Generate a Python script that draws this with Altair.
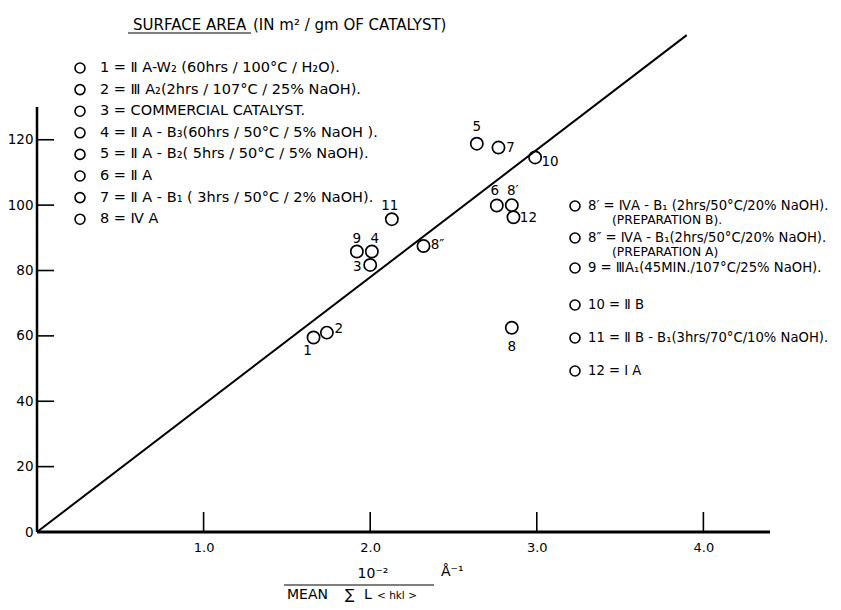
import altair as alt
import pandas as pd

# ---------------- data ----------------
pt_labels = ["1", "2", "3", "4", "5", "6", "7", "8", "8′", "8″", "9", "10", "11", "12"]
pt_x = [1.66, 1.74, 2.00, 2.01, 2.64, 2.76, 2.77, 2.85, 2.85, 2.32, 1.92, 2.99, 2.13, 2.86]
pt_y = [59.5, 61.0, 81.7, 85.8, 118.8, 99.9, 117.6, 62.5, 100.0, 87.5, 85.8, 114.6, 95.7, 96.3]

fit_x = [0.0, 3.9]
fit_y = [0.0, 152.0]

x_ticks = [1.0, 2.0, 3.0, 4.0]
y_ticks = [0, 20, 40, 60, 80, 100, 120]
x_axis_extent = [0.0, 4.4]
y_axis_extent = [0.0, 130.0]

title_main = "SURFACE AREA"
title_rest = "(IN m² / gm OF CATALYST)"

legend_left = [
    "1 = Ⅱ A-W₂ (60hrs / 100°C / H₂O).",
    "2 = Ⅲ A₂(2hrs / 107°C / 25% NaOH).",
    "3 = COMMERCIAL  CATALYST.",
    "4 = Ⅱ A - B₃(60hrs / 50°C / 5% NaOH ).",
    "5 = Ⅱ A - B₂( 5hrs / 50°C / 5% NaOH).",
    "6 = Ⅱ A",
    "7 = Ⅱ A - B₁ ( 3hrs / 50°C / 2% NaOH).",
    "8 = Ⅳ A",
]
legend_right = [
    ("8′ = ⅣA - B₁ (2hrs/50°C/20% NaOH).", "(PREPARATION  B)."),
    ("8″ = ⅣA - B₁(2hrs/50°C/20% NaOH).", "(PREPARATION  A)"),
    ("9 = ⅢA₁(45MIN./107°C/25% NaOH).", None),
    ("10 = Ⅱ B", None),
    ("11 = Ⅱ B - B₁(3hrs/70°C/10% NaOH).", None),
    ("12 = Ⅰ A", None),
]

xt_num = "10⁻²"
xt_unit = "Å⁻¹"
xt_den = ["MEAN", "∑", "L"]
xt_sub = "< hkl >"

# ---------------- styling / layout ----------------
FONT = "DejaVu Sans"
W, H = 783, 523
OX, OY = 37, 9  # page position of plot origin (top-left)

def px(x):
    return x - OX

def py(y):
    return y - OY

label_offsets = {
    "1": (-6, 13), "2": (12, -4), "3": (-13, 2), "4": (3, -13), "5": (0, -17),
    "6": (-2, -14), "7": (12, 0), "8": (0, 19), "8′": (1, -14), "8″": (14, -1),
    "9": (0, -13), "10": (15, 5), "11": (-2, -13), "12": (15, 1),
}

xs = alt.Scale(domain=[0, 4.7], nice=False, zero=False)
ys = alt.Scale(domain=[0, 160], nice=False, zero=False)
xax = alt.Axis(values=x_ticks, format=".1f", domain=False, ticks=False, grid=False,
               labelPadding=9, labelFontSize=13, labelFont=FONT, labelColor="black",
               title=None, labelFlush=False)
yax = alt.Axis(values=y_ticks, domain=False, ticks=False, grid=False,
               labelPadding=4, labelFontSize=13.5, labelFont=FONT, labelColor="black",
               title=None)

pts = pd.DataFrame({"label": pt_labels, "x": pt_x, "y": pt_y})
fit = pd.DataFrame({"x": fit_x, "y": fit_y})

layers = []

# axis lines
layers.append(
    alt.Chart(pd.DataFrame({"x0": [x_axis_extent[0]], "x1": [x_axis_extent[1]], "y0": [0.0]}))
    .mark_rule(color="black", strokeWidth=3)
    .encode(x=alt.X("x0:Q", scale=xs, axis=xax, title=None), x2="x1:Q",
            y=alt.Y("y0:Q", scale=ys, axis=yax, title=None))
)
layers.append(
    alt.Chart(pd.DataFrame({"y0": [y_axis_extent[0]], "y1": [y_axis_extent[1]], "x0": [0.0]}))
    .mark_rule(color="black", strokeWidth=2.5)
    .encode(y=alt.Y("y0:Q", scale=ys, axis=yax, title=None), y2="y1:Q",
            x=alt.X("x0:Q", scale=xs, axis=xax, title=None))
)
# inward ticks
layers.append(
    alt.Chart(pd.DataFrame({"t": [v for v in y_ticks if v > 0]}))
    .mark_rule(color="black", strokeWidth=1.6)
    .encode(y=alt.Y("t:Q", scale=ys, axis=yax, title=None), x=alt.value(0), x2=alt.value(17))
)
layers.append(
    alt.Chart(pd.DataFrame({"t": x_ticks}))
    .mark_rule(color="black", strokeWidth=1.6)
    .encode(x=alt.X("t:Q", scale=xs, axis=xax, title=None), y=alt.value(H), y2=alt.value(H - 20))
)
# fitted line
layers.append(
    alt.Chart(fit).mark_line(color="black", strokeWidth=2)
    .encode(x=alt.X("x:Q", scale=xs, axis=xax, title=None),
            y=alt.Y("y:Q", scale=ys, axis=yax, title=None))
)
# data points
layers.append(
    alt.Chart(pts).mark_point(shape="circle", filled=False, size=150, strokeWidth=1.7,
                              color="black", opacity=1)
    .encode(x=alt.X("x:Q", scale=xs, axis=xax, title=None),
            y=alt.Y("y:Q", scale=ys, axis=yax, title=None))
)
for lab in pt_labels:
    dx, dy = label_offsets[lab]
    layers.append(
        alt.Chart(pts).transform_filter(alt.datum.label == lab)
        .mark_text(dx=dx, dy=dy, fontSize=13.5, font=FONT, color="black")
        .encode(x=alt.X("x:Q", scale=xs, axis=xax, title=None),
                y=alt.Y("y:Q", scale=ys, axis=yax, title=None),
                text="label:N")
    )

def text_layer(t, x, y, size=14.5, align="left"):
    return (alt.Chart(pd.DataFrame({"t": [t]}))
            .mark_text(align=align, baseline="middle", fontSize=size, font=FONT, color="black")
            .encode(x=alt.value(px(x)), y=alt.value(py(y)), text="t:N"))

def circle_layer(x, y, size=100):
    return (alt.Chart(pd.DataFrame({"t": [0]}))
            .mark_point(shape="circle", filled=False, size=size, strokeWidth=1.6,
                        color="black", opacity=1)
            .encode(x=alt.value(px(x)), y=alt.value(py(y))))

def hrule(x1, x2, y, w=1.4):
    return (alt.Chart(pd.DataFrame({"t": [0]}))
            .mark_rule(color="black", strokeWidth=w)
            .encode(x=alt.value(px(x1)), x2=alt.value(px(x2)), y=alt.value(py(y))))

# title
layers.append(text_layer(title_main, 133, 25, size=15))
layers.append(text_layer(title_rest, 253, 25, size=15))
layers.append(hrule(128, 251, 33, 1.2))

# left legend
for i, t in enumerate(legend_left):
    yy = 68 + i * 21.6
    layers.append(circle_layer(80, yy))
    layers.append(text_layer(t, 100, yy))

# right legend
right_rows = [206, 238, 268, 305, 338, 371]
for (t, sub), yy in zip(legend_right, right_rows):
    layers.append(circle_layer(575, yy))
    layers.append(text_layer(t, 588, yy, size=13.2))
    if sub:
        layers.append(text_layer(sub, 612, yy + 13.5, size=12.3))

# x-axis title (fraction)
layers.append(text_layer(xt_num, 373, 574, size=14, align="center"))
layers.append(hrule(284, 434, 585, 1.2))
layers.append(text_layer(xt_unit, 441, 572, size=14))
layers.append(text_layer(xt_den[0], 287, 595, size=14))
layers.append(text_layer(xt_den[1], 345, 595, size=14))
layers.append(text_layer(xt_den[2], 364, 595, size=14))
layers.append(text_layer(xt_sub, 377, 596, size=10.5))

chart = (
    alt.layer(*layers)
    .properties(width=W, height=H, autosize=alt.AutoSizeParams(type="none"),
                padding={"left": 29, "top": 1, "right": 13, "bottom": 70},
                background="white")
    .configure_view(stroke=None)
)

chart.save("out.html", embed_options={"renderer": "svg", "actions": False})
